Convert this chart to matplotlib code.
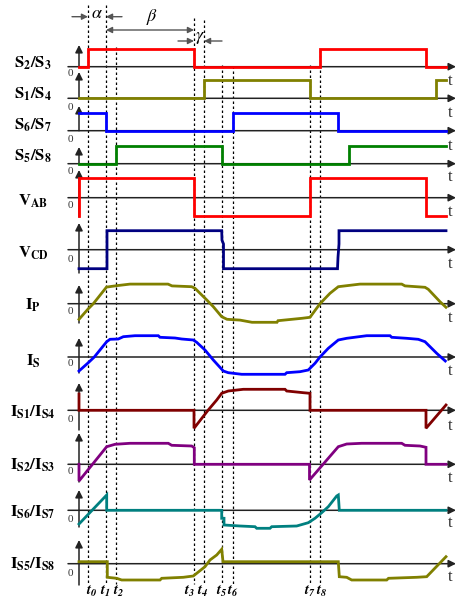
import numpy as np
import matplotlib
matplotlib.use("Agg")
import matplotlib.pyplot as plt

plt.rcParams['font.family'] = 'serif'
plt.rcParams['font.serif'] = ['Liberation Serif', 'DejaVu Serif']
plt.rcParams['mathtext.fontset'] = 'stix'

# time instants t0..t8 and the span of the time axis
t_marks = [88, 106, 116.5, 194, 204, 222, 233, 310, 320]
t_names = ['t_0', 't_1', 't_2', 't_3', 't_4', 't_5', 't_6', 't_7', 't_8']
t_begin, t_stop = 79, 446

# gate signals: edge times and the level held after each edge
s23_t = [79, 88, 194, 320, 426, 446]
s23_v = [0, 1, 0, 1, 0]
s14_t = [79, 204, 310, 436, 446]
s14_v = [0, 1, 0, 1]
s67_t = [79, 106, 233, 338, 446]
s67_v = [1, 0, 1, 0]
s58_t = [79, 116.5, 222, 349, 446]
s58_v = [0, 1, 0, 1]

# bridge voltages
vab_t = [79, 79, 194, 194, 310, 310, 426, 426, 446]
vab_v = [-0.95, 1.02, 1.02, -0.95, -0.95, 1.02, 1.02, -0.95, -0.95]
vcd_t = [79, 107, 107, 221.7, 222, 223.5, 223.5, 337.5, 338, 339, 339, 446]
vcd_v = [-1, -1, 1, 1, 0.5, 0.3, -1, -1, -0.4, 0.3, 1, 1]

# currents (normalised)
ip_t = [79, 88, 93.3, 106.5, 116.5, 130, 168, 172, 191.7, 195, 206.7, 213.3, 221.7, 227,
        240, 252, 277, 278, 302, 310, 320, 330, 338.3, 360, 401.7, 405, 425, 428.3, 440, 446]
ip_v = [-0.78, -0.27, 0, 0.83, 0.9, 0.98, 0.98, 0.89, 0.85, 0.77, 0.19, -0.15, -0.65, -0.78,
        -0.82, -0.93, -0.93, -0.85, -0.73, -0.68, 0, 0.52, 0.85, 0.98, 0.98, 0.89, 0.82, 0.72, 0.1, -0.18]

is_t = [79, 88.3, 94.3, 106.7, 110, 118.3, 123.3, 135, 158.3, 160, 175, 181.7, 193.3, 196.7,
        205, 213.3, 223.3, 228.3, 241.7, 285, 286.7, 300, 308.3, 315, 320, 328.3, 338.3, 346.7,
        366.7, 390, 391.7, 406.7, 418.3, 425, 436.7, 445.3]
is_v = [-0.7, -0.285, 0, 0.765, 0.885, 0.9, 1.015, 1.065, 1.065, 0.985, 0.95, 0.9, 0.85, 0.735,
        0.35, -0.15, -0.7, -0.785, -0.865, -0.865, -0.785, -0.735, -0.65, -0.315, 0, 0.435, 0.85, 0.935,
        1.065, 1.065, 0.985, 0.935, 0.885, 0.765, 0.185, -0.2]

is14_t = [79, 79, 194, 194, 208, 216.7, 221.7, 228.3, 243.3, 285, 286.7, 303.3, 310, 310, 426, 426, 446]
is14_v = [0.815, 0, 0, -0.9, 0, 0.515, 0.85, 0.965, 1.05, 1.05, 0.965, 0.88, 0.85, 0, 0, -0.9, 0.265]

is23_t = [79, 79, 106.7, 115, 130, 168.3, 171.7, 191.7, 194.3, 194.3, 309.5, 309.5, 338.3, 346.7,
          361.7, 401.7, 405, 420, 426, 426, 446]
is23_v = [0, -0.835, 0.88, 1.0, 1.05, 1.05, 0.95, 0.915, 0.83, 0, 0, -0.785, 0.88, 1.015,
          1.05, 1.05, 0.95, 0.915, 0.85, 0, 0]

is67_t = [79, 106.7, 106.7, 221.7, 221.7, 224, 224, 240, 255, 256.7, 270, 271.7, 296.7, 308.3,
          315, 321.7, 328.3, 336.7, 338.3, 339.3, 446]
is67_v = [-0.685, 0.765, 0, 0, -0.4, -0.4, -0.735, -0.785, -0.82, -0.9, -0.9, -0.82, -0.785, -0.62,
          -0.4, -0.12, 0.18, 0.715, 0.765, 0, 0]

is58_t = [79, 107.3, 107.3, 116.7, 121.7, 160, 161.7, 183.3, 193.3, 196.7, 205, 210, 216.7, 221.7,
          223, 338.3, 339.3, 346.7, 351.7, 386.7, 388.5, 416.7, 426.7, 446]
is58_v = [0.1, 0.1, -0.68, -0.73, -0.815, -0.815, -0.73, -0.68, -0.615, -0.48, -0.15, 0.185, 0.435, 0.72,
          0.1, 0.1, -0.65, -0.68, -0.815, -0.815, -0.73, -0.68, -0.65, 0.35]


def steps(edges, levels):
    x, y = [], []
    for i, lv in enumerate(levels):
        x += [edges[i], edges[i + 1]]
        y += [lv, lv]
    return x, y


# label, baseline, gain, colour, (x, y), axis tip, axis bottom, "t" label y
rows = [
    (r'$\mathbf{S_2/S_3}$', 66.7, 17.7, '#ff0000', steps(s23_t, s23_v), 45, 67, 81),
    (r'$\mathbf{S_1/S_4}$', 98.3, 18, '#808000', steps(s14_t, s14_v), 72, 98.3, 112.7),
    (r'$\mathbf{S_6/S_7}$', 130.7, 17.7, '#0000ff', steps(s67_t, s67_v), 106, 130.7, 145.7),
    (r'$\mathbf{S_5/S_8}$', 163.7, 18, '#008000', steps(s58_t, s58_v), 147, 163.7, 177),
    (r'$\mathbf{V_{AB}}$', 197.7, 19, '#ff0000', (vab_t, vab_v), 170, 217, 212),
    (r'$\mathbf{V_{CD}}$', 249.7, 19, '#000080', (vcd_t, vcd_v), 223, 273, 264),
    (r'$\mathbf{I_P}$', 303.7, 20, '#808000', (ip_t, ip_v), 285, 323, 318),
    (r'$\mathbf{I_S}$', 357, 20, '#0000ff', (is_t, is_v), 338, 373, 370.7),
    (r'$\mathbf{I_{S1}/I_{S4}}$', 410.3, 20, '#800000', (is14_t, is14_v), 383, 430, 425.7),
    (r'$\mathbf{I_{S2}/I_{S3}}$', 464.3, 20, '#800080', (is23_t, is23_v), 433, 482, 478),
    (r'$\mathbf{I_{S6}/I_{S7}}$', 510.3, 20, '#008080', (is67_t, is67_v), 490, 527, 523),
    (r'$\mathbf{I_{S5}/I_{S8}}$', 563.7, 20, '#808000', (is58_t, is58_v), 540, 585, 577),
]
label_y = [63, 94, 125, 156, 201, 253, 305, 361, 412, 465, 512, 564]
zero_y = [74, 107, 139, 172, 205, 259, 312, 363, 419, 472, 520, 573]
dash_top = [5, 5, 47, 18, 20, 65, 66, 65, 50]
t_label_x = [91.5, 105, 118.5, 190, 203, 221.5, 233, 310, 322]

fig = plt.figure(figsize=(4.56, 5.99), dpi=100)
ax = fig.add_axes([0, 0, 1, 1])
ax.set_xlim(0, 456)
ax.set_ylim(599, 0)
ax.axis('off')

# dotted markers for the switching instants
for tm, top in zip(t_marks, dash_top):
    ax.plot([tm, tm], [top, 584], color='black', lw=0.9, ls=(0, (2, 2)), zorder=1)
for lx, nm in zip(t_label_x, t_names):
    ax.text(lx, 591, r'$\mathbfit{%s}$' % nm, fontsize=10.5, ha='center', va='center')

for (lab, base, gain, col, (xs, ys), tip, bot, ty), ly in zip(rows, label_y):
    ax.annotate('', xy=(456, base), xytext=(68, base),
                arrowprops=dict(arrowstyle='-|>', color='#222222', lw=1.1, mutation_scale=11,
                                shrinkA=0, shrinkB=0), zorder=2)
    ax.annotate('', xy=(79, tip), xytext=(79, bot),
                arrowprops=dict(arrowstyle='-|>', color='#222222', lw=1.1, mutation_scale=11,
                                shrinkA=0, shrinkB=0), zorder=2)
    ax.plot(xs, base - gain * np.array(ys), color=col, lw=2.0, zorder=3, solid_joinstyle='miter')
    ax.text(33, ly, lab, fontsize=12, ha='center', va='center')
    ax.text(450, ty, 't', fontsize=12, ha='center', va='center', color='#333333')

for zy in zero_y:
    ax.text(70, zy, '0', fontsize=8, ha='center', va='center', color='#333333')

# alpha / beta / gamma intervals
arr = dict(arrowstyle='-|>', color='#555555', lw=1.0, mutation_scale=9, shrinkA=0, shrinkB=0)
ax.annotate('', xy=(88, 16.7), xytext=(72, 16.7), arrowprops=arr)
ax.annotate('', xy=(106, 16.7), xytext=(122, 16.7), arrowprops=arr)
ax.text(97, 14, r'$\alpha$', fontsize=13, ha='center', va='center')
ax.annotate('', xy=(106, 30), xytext=(194, 30),
            arrowprops=dict(arr, arrowstyle='<|-|>'))
ax.text(152, 17, r'$\beta$', fontsize=13, ha='center', va='center')
ax.annotate('', xy=(194, 41), xytext=(178, 41), arrowprops=arr)
ax.annotate('', xy=(204, 41), xytext=(222, 41), arrowprops=arr)
ax.text(199.5, 37, r'$\gamma$', fontsize=13, ha='center', va='center')

fig.savefig('out.png', dpi=100)
